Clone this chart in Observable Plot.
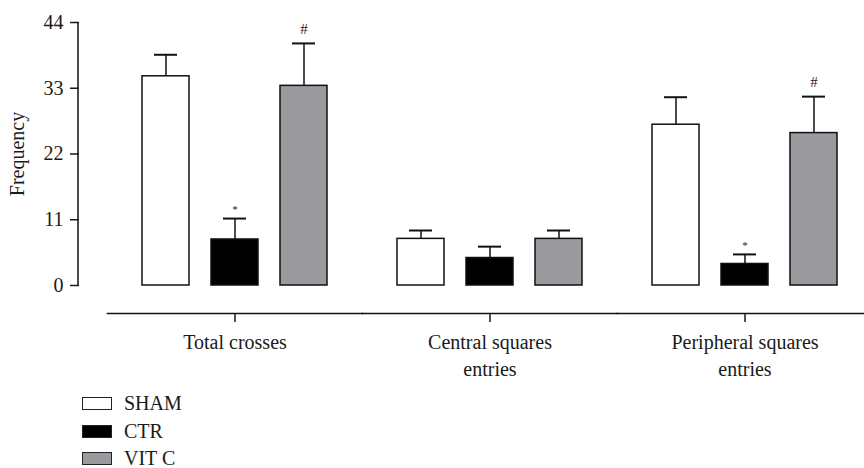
<!DOCTYPE html>
<html><head><meta charset="utf-8">
<script src="https://cdn.jsdelivr.net/npm/d3@7"></script>
<script src="https://cdn.jsdelivr.net/npm/@observablehq/plot@0.6"></script>
<style>
body{margin:0;background:#fff;font-family:"Liberation Serif",serif;}
#legend{padding-left:82px;}
.row{display:flex;align-items:center;height:27.5px;font-size:20px;color:#1a1a1a}
.sw{width:28px;height:11px;border:1px solid #222;margin-right:12px}
</style></head><body><div id="chart"></div><div id="legend"></div>
<script>
const groups = ["Total crosses", "Central squares entries", "Peripheral squares entries"];
const groupLabels = ["Total crosses", "Central squares\nentries", "Peripheral squares\nentries"];
const series = ["SHAM", "CTR", "VIT C"];
const colors = ["#ffffff", "#000000", "#9b9a9e"];
const sham = [35.0, 7.8, 26.9];
const shamSD = [3.6, 1.4, 4.6];
const ctr = [7.7, 4.6, 3.6];
const ctrSD = [3.5, 1.9, 1.6];
const vitc = [33.4, 7.8, 25.5];
const vitcSD = [7.1, 1.4, 6.1];
const sigMarks = [["", "*", "#"], ["", "", ""], ["", "*", "#"]];
const yTicks = [0, 11, 22, 33, 44];

const means = [sham, ctr, vitc];
const sds = [shamSD, ctrSD, vitcSD];
const rows = [];
groups.forEach((g, gi) => series.forEach((s, si) => {
  rows.push({group: g, series: s, value: means[si][gi], upper: means[si][gi] + sds[si][gi], sig: sigMarks[gi][si]});
}));

const plot = Plot.plot({
  width: 864, height: 390,
  marginLeft: 106, marginRight: -8.5, marginTop: 22, marginBottom: 105,
  style: {fontFamily: "Liberation Serif", fontSize: "20px", color: "#1a1a1a", background: "white"},
  fx: {domain: groups, paddingInner: 0, paddingOuter: 0},
  x: {domain: series, paddingInner: 0.314, paddingOuter: 0.482, axis: null},
  y: {domain: [yTicks[0], yTicks[yTicks.length - 1]]},
  color: {domain: series, range: colors},
  marks: [
    // y-axis line, drawn in the first facet only, shifted left of the facet like the reference
    Plot.ruleX([groups[0]], {fx: d => d, x: null, y1: yTicks[0], y2: yTicks[yTicks.length - 1], dx: -157, stroke: "#111", strokeWidth: 1.5}),
    Plot.frame({anchor: "bottom", dy: 28, stroke: "#111", strokeWidth: 1.5}),
    Plot.axisY({ticks: yTicks, tickSize: 9, tickPadding: 7, dx: -28, label: "Frequency", labelAnchor: "center", labelArrow: "none", labelOffset: 98, strokeWidth: 1.5}),
    Plot.axisFx({anchor: "bottom", tickSize: 9, dy: 28, tickFormat: d => groupLabels[groups.indexOf(d)], lineHeight: 1.35, label: null, tickPadding: 7, strokeWidth: 1.5}),
    Plot.ruleX(rows, {fx: "group", x: "series", y1: "value", y2: "upper", stroke: "#111", strokeWidth: 1.5}),
    Plot.tickY(rows, {fx: "group", x: "series", y: "upper", inset: 12, stroke: "#111", strokeWidth: 2}),
    Plot.barY(rows, {fx: "group", x: "series", y: "value", fill: "series", stroke: "#111", strokeWidth: 1.5}),
    Plot.text(rows.filter(d => d.sig === "*"), {fx: "group", x: "series", y: "upper", text: "sig", dy: -9, fontSize: 11, fill: "#222"}),
    Plot.text(rows.filter(d => d.sig === "#"), {fx: "group", x: "series", y: "upper", text: "sig", dy: -14, fontSize: 15, fill: "#222"})
  ]
});
document.getElementById("chart").appendChild(plot);

const legend = d3.select("#legend");
series.forEach((s, i) => {
  const r = legend.append("div").attr("class", "row");
  r.append("div").attr("class", "sw").style("background", colors[i]);
  r.append("span").text(s);
});
</script></body></html>
